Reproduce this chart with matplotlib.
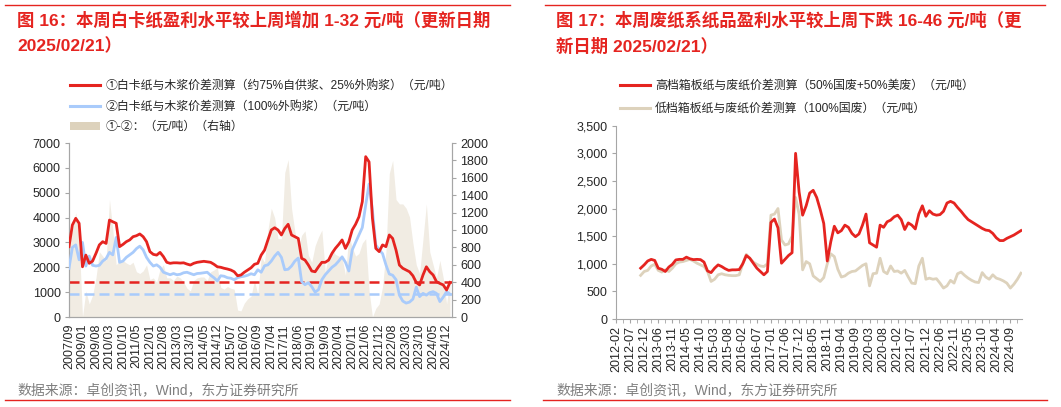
import numpy as np
import matplotlib
matplotlib.use('Agg')
import matplotlib.pyplot as plt
from matplotlib.lines import Line2D
from matplotlib.patches import Patch
from matplotlib.ticker import FuncFormatter

plt.rcParams['font.family'] = ['Liberation Sans', 'Noto Sans CJK SC']
plt.rcParams['axes.unicode_minus'] = False

# --------------------------------------------------------------------------------
# Data (left): white card board vs pulp spread, category axis (4 points per tick label)
a1sTickL = ['2007/09', '2009/01', '2009/08', '2010/03', '2010/10', '2011/05', '2012/01',
            '2012/08', '2013/03', '2013/10', '2014/05', '2014/12', '2015/07', '2016/02',
            '2016/09', '2017/04', '2017/11', '2018/06', '2019/01', '2019/09', '2020/04',
            '2020/11', '2021/06', '2021/12', '2022/08', '2023/03', '2023/10', '2024/05',
            '2024/12']
a1dRedL = [2830, 3700, 3970, 3770, 2020, 2490, 2160, 2250, 2560, 2900,
           3030, 2960, 3900, 3830, 3770, 2830, 2920, 3030, 3100, 3230,
           3270, 3340, 3230, 3030, 2630, 2520, 2490, 2600, 2430, 2200,
           2160, 2180, 2180, 2170, 2180, 2130, 2090, 2160, 2200, 2220,
           2240, 2220, 2200, 2120, 2020, 2000, 1960, 1930, 1890, 1820,
           1660, 1690, 1800, 1890, 1980, 2120, 2160, 2490, 2690, 3100,
           3500, 3590, 3500, 3300, 3560, 3730, 3300, 3230, 3160, 2360,
           2290, 2090, 1850, 1820, 2020, 2200, 2200, 2290, 2560, 2760,
           2920, 3100, 2760, 3030, 3500, 3730, 4030, 4640, 6450, 6240,
           3970, 2760, 2630, 2900, 2830, 3300, 3160, 2690, 2090, 1960,
           1890, 1820, 1660, 1390, 1290, 1690, 2020, 1820, 1690, 1420,
           1350, 1290, 1085, 1390]
a1dBlueL = [1960, 2800, 2900, 2300, 3000, 2050, 2450, 2080, 2050, 2080,
            2250, 2350, 2600, 2500, 3200, 2200, 2250, 2400, 2500, 2600,
            2750, 2850, 2700, 2400, 2200, 2050, 2100, 2000, 1800, 1750,
            1700, 1750, 1700, 1720, 1780, 1800, 1750, 1700, 1750, 1760,
            1780, 1800, 1680, 1580, 1450, 1660, 1640, 1580, 1560, 1500,
            1580, 1620, 1640, 1680, 1740, 1700, 1900, 1800, 2060, 2100,
            2250, 2450, 2600, 2400, 1900, 1920, 2050, 2250, 2370, 1420,
            1300, 1380, 1220, 1000, 1100, 1500, 1700, 1850, 2000, 2100,
            2250, 2420, 2200, 1850, 2700, 3000, 3300, 3600, 4500, 5350,
            4300, 2900, 2700, 2550, 2100, 1730, 1680, 1500, 880, 640,
            560, 600, 720, 1200, 820, 950, 880, 980, 1020, 950,
            620, 800, 1020, 920]
a1dDiffL = [850, 1000, 1200, 900, 0, 300, 150, 250, 450, 750,
            700, 650, 1350, 1000, 600, 650, 650, 620, 600, 630,
            520, 500, 530, 600, 430, 450, 400, 550, 600, 450,
            450, 420, 470, 450, 400, 330, 300, 420, 450, 460,
            460, 420, 520, 540, 570, 340, 320, 350, 330, 320,
            80, 70, 160, 210, 240, 420, 260, 690, 630, 1000,
            1250, 1140, 900, 900, 1660, 1810, 1250, 980, 790, 940,
            990, 710, 630, 820, 920, 1000, 520, 700, 780, 720,
            700, 680, 480, 950, 800, 700, 730, 850, 900, 300,
            0, 100, 150, 350, 750, 1650, 1800, 1350, 1300, 1300,
            1250, 1150, 850, 600, 500, 900, 1300, 750, 600, 450,
            650, 450, 150, 450]
dRedLatestL = 1390
dBlueLatestL = 920

# --------------------------------------------------------------------------------
# Data (right): containerboard vs waste paper spread (first point at index 7)
a1sTickR = ['2012-02', '2012-07', '2012-12', '2013-06', '2013-11', '2014-05', '2014-10',
            '2015-03', '2015-08', '2016-02', '2016-07', '2017-01', '2017-06', '2017-12',
            '2018-05', '2018-11', '2019-04', '2019-09', '2020-03', '2020-08', '2021-02',
            '2021-07', '2021-12', '2022-06', '2022-11', '2023-05', '2023-10', '2024-04',
            '2024-09']
iStartR = 7
a1dHighR = [920, 980, 1050, 1080, 1060, 920, 900, 860, 940, 990,
            1070, 1080, 1080, 1120, 1090, 1075, 1080, 1075, 1030, 870,
            840, 920, 980, 950, 910, 880, 890, 890, 895, 1000,
            1150, 1100, 1010, 920, 860, 800, 860, 1750, 1810, 1650,
            1010, 1080, 1150, 1200, 3000, 2300, 1880, 2050, 2280, 2330,
            2200, 1980, 1730, 1050, 1400, 1680, 1560, 1600, 1700, 1660,
            1550, 1490, 1540, 1700, 1900, 1380, 1340, 1300, 1700, 1660,
            1760, 1790, 1850, 1880, 1800, 1620, 1740, 1700, 1630, 1900,
            2050, 1860, 1960, 1900, 1880, 1890, 1950, 2100, 2130, 2100,
            2020, 1950, 1870, 1800, 1760, 1720, 1680, 1640, 1610, 1600,
            1550, 1470, 1420, 1420, 1460, 1490, 1520, 1560, 1600]
a1dLowR = [790, 860, 880, 960, 990, 880, 850, 890, 860, 920,
           1000, 1030, 1040, 1060, 1080, 1050, 1010, 980, 950, 860,
           680, 720, 800, 820, 800, 790, 785, 785, 800, 1000,
           1170, 1100, 1030, 990, 960, 950, 1000, 1880, 1900, 2000,
           1430, 1340, 1360, 1500, 2200, 1900, 890, 1040, 1000, 780,
           730, 680, 750, 1000, 1180, 1130, 900, 760, 780, 830,
           860, 870, 920, 970, 1000, 600, 820, 830, 1100, 860,
           820, 960, 860, 870, 830, 880, 760, 650, 640, 960,
           1100, 720, 740, 720, 730, 650, 560, 600, 700, 650,
           820, 850, 790, 740, 700, 670, 660, 840, 760, 720,
           800, 740, 720, 690, 650, 560, 630, 720, 830]

# --------------------------------------------------------------------------------
# Styles
sRed = '#e52420'
sBlue = '#a9cbfb'
sBeige = '#ddd2bc'
sBeigeFill = '#f1ece3'
sSpine = '#a6a6a6'
sText = '#262626'
iW, iH = 1061, 407

def figX(dX):
    return dX / iW

def figY(dY):
    return 1 - dY / iH

fig = plt.figure(figsize=(iW / 100, iH / 100), dpi=100)

# --------------------------------------------------------------------------------
# Frame lines, titles and sources
for dX0, dX1 in [(5, 510), (545, 1045)]:
    fig.add_artist(Line2D([figX(dX0), figX(dX1)], [figY(5), figY(5)], color=sRed, lw=1.0))
fig.add_artist(Line2D([figX(5), figX(510)], [figY(400), figY(400)], color=sRed, lw=1.0))
fig.add_artist(Line2D([figX(543), figX(1047)], [figY(400), figY(400)], color=sRed, lw=1.0))

oTitle = dict(color=sRed, fontsize=12.5, fontweight='bold', va='center', ha='left')
fig.text(figX(17), figY(20), '图 16：本周白卡纸盈利水平较上周增加 1-32 元/吨（更新日期', **oTitle)
fig.text(figX(17), figY(46), '2025/02/21）', **oTitle)
fig.text(figX(556), figY(20), '图 17：本周废纸系纸品盈利水平较上周下跌 16-46 元/吨（更', **oTitle)
fig.text(figX(556), figY(46), '新日期 2025/02/21）', **oTitle)

oSrc = dict(color='#7f7f7f', fontsize=10, va='center', ha='left')
fig.text(figX(17), figY(390), '数据来源：卓创资讯，Wind，东方证券研究所', **oSrc)
fig.text(figX(556), figY(390), '数据来源：卓创资讯，Wind，东方证券研究所', **oSrc)

# --------------------------------------------------------------------------------
# Left chart
ax1 = fig.add_axes([figX(69), figY(317), 383 / iW, 174 / iH])
ax1r = ax1.twinx()
ax1.set_zorder(ax1r.get_zorder() + 1)
ax1.patch.set_visible(False)

a1iXL = np.arange(len(a1dRedL))
ax1r.fill_between(a1iXL, 0, a1dDiffL, color=sBeigeFill, linewidth=0)
ax1.axhline(dBlueLatestL, color=sBlue, lw=1.8, ls=(0, (4, 2)), zorder=2)
ax1.axhline(dRedLatestL, color=sRed, lw=1.8, ls=(0, (4, 2)), zorder=2)
ax1.plot(a1iXL, a1dBlueL, color=sBlue, lw=2.0, zorder=3)
ax1.plot(a1iXL, a1dRedL, color=sRed, lw=2.0, zorder=4)

ax1.set_xlim(0, 113.6)
ax1.set_ylim(0, 7000)
ax1.set_yticks(np.arange(0, 7001, 1000))
ax1r.set_ylim(0, 2000)
ax1r.set_yticks(np.arange(0, 2001, 200))
ax1.set_xticks(a1iXL[::4])
ax1.set_xticklabels(a1sTickL, rotation=90)

for oAx in (ax1, ax1r):
    oAx.spines['top'].set_visible(False)
    for sSide in ('left', 'right', 'bottom'):
        oAx.spines[sSide].set_color(sSpine)
ax1.tick_params(axis='y', length=3, color=sSpine, labelsize=9, labelcolor=sText, pad=3)
ax1.tick_params(axis='x', length=0, labelsize=9, labelcolor=sText, pad=5)
ax1r.tick_params(axis='y', length=3, color=sSpine, labelsize=9, labelcolor=sText, pad=3)

a1oHandL = [Line2D([], [], color=sRed, lw=2.2),
            Line2D([], [], color=sBlue, lw=2.2),
            Patch(facecolor=sBeige, edgecolor='none')]
a1sLabL = ['①白卡纸与木浆价差测算（约75%自供浆、25%外购浆）（元/吨）',
           '②白卡纸与木浆价差测算（100%外购浆）（元/吨）',
           '①-②：（元/吨）（右轴）']
fig.legend(a1oHandL, a1sLabL, loc='upper left', bbox_to_anchor=(figX(70), figY(80)),
           frameon=False, fontsize=8.6, handlelength=2.5, handleheight=0.6, handletextpad=0.45,
           labelspacing=0.72, borderpad=0, borderaxespad=0, labelcolor=sText)

# --------------------------------------------------------------------------------
# Right chart
ax2 = fig.add_axes([figX(616), figY(319), 406 / iW, 193.3 / iH])
a1iXR = np.arange(iStartR, iStartR + len(a1dHighR))
ax2.plot(a1iXR, a1dLowR, color=sBeige, lw=2.0, zorder=2)
ax2.plot(a1iXR, a1dHighR, color=sRed, lw=2.0, zorder=3)

ax2.set_xlim(0, 115.3)
ax2.set_ylim(0, 3500)
ax2.set_yticks(np.arange(0, 3501, 500))
ax2.yaxis.set_major_formatter(FuncFormatter(lambda dV, iP: '{:,.0f}'.format(dV)))
ax2.set_xticks(np.arange(0, 4 * len(a1sTickR), 4))
ax2.set_xticklabels(a1sTickR, rotation=90)
ax2.set_xticks(np.arange(2, 116, 4), minor=True)

ax2.spines['top'].set_visible(False)
ax2.spines['right'].set_visible(False)
ax2.spines['left'].set_color(sSpine)
ax2.spines['bottom'].set_color(sSpine)
ax2.tick_params(axis='y', length=3, color=sSpine, labelsize=9, labelcolor=sText, pad=3)
ax2.tick_params(axis='x', which='both', length=3, color=sSpine, labelsize=9,
                labelcolor=sText, pad=2)

a1oHandR = [Line2D([], [], color=sRed, lw=2.2), Line2D([], [], color=sBeige, lw=2.2)]
a1sLabR = ['高档箱板纸与废纸价差测算（50%国废+50%美废）（元/吨）',
           '低档箱板纸与废纸价差测算（100%国废）（元/吨）']
fig.legend(a1oHandR, a1sLabR, loc='upper left', bbox_to_anchor=(figX(620), figY(80)),
           frameon=False, fontsize=8.6, handlelength=2.5, handletextpad=0.45,
           labelspacing=0.9, borderpad=0, borderaxespad=0, labelcolor=sText)

fig.savefig('out.png', dpi=100)
